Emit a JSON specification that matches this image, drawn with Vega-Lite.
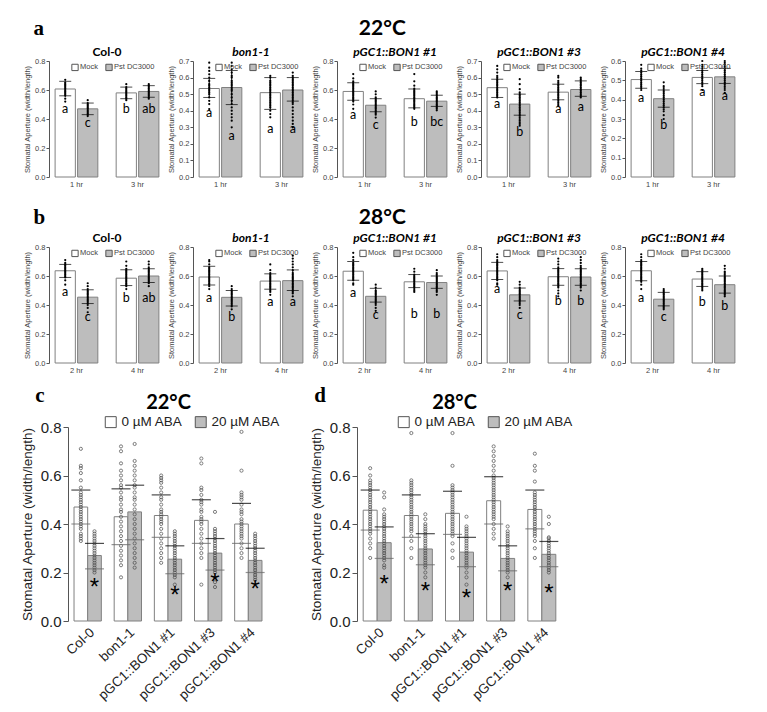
{
"$schema":"https://vega.github.io/schema/vega-lite/v6.json",
"padding":{"left":20,"top":18,"right":4,"bottom":4},
"background":"white",
"datasets":{
"ab":[
{"r":"a","p":"Col-0","t":"1 hr","g":"Mock","m":0.607,"lo":0.56,"hi":0.66,"l":"a","ly":0.47,"pts":[0.67,0.65,0.64,0.63,0.62,0.61,0.6,0.59,0.58,0.57,0.56,0.54,0.52]},
{"r":"a","p":"Col-0","t":"1 hr","g":"Pst DC3000","m":0.47,"lo":0.43,"hi":0.51,"l":"c","ly":0.375,"pts":[0.53,0.51,0.5,0.49,0.48,0.47,0.46,0.45,0.44,0.43,0.42]},
{"r":"a","p":"Col-0","t":"3 hr","g":"Mock","m":0.58,"lo":0.54,"hi":0.62,"l":"b","ly":0.47,"pts":[0.64,0.62,0.61,0.6,0.59,0.58,0.57,0.56,0.55,0.54,0.53]},
{"r":"a","p":"Col-0","t":"3 hr","g":"Pst DC3000","m":0.59,"lo":0.55,"hi":0.63,"l":"ab","ly":0.47,"pts":[0.64,0.63,0.62,0.61,0.6,0.59,0.58,0.57,0.56,0.55,0.54]},
{"r":"a","p":"bon1-1","t":"1 hr","g":"Mock","m":0.534,"lo":0.48,"hi":0.595,"l":"a","ly":0.385,"pts":[0.69,0.66,0.64,0.62,0.6,0.58,0.56,0.55,0.54,0.53,0.52,0.51,0.5,0.48,0.46,0.44,0.41]},
{"r":"a","p":"bon1-1","t":"1 hr","g":"Pst DC3000","m":0.54,"lo":0.437,"hi":0.643,"l":"a","ly":0.25,"pts":[0.69,0.67,0.65,0.63,0.61,0.6,0.58,0.57,0.56,0.55,0.54,0.53,0.52,0.5,0.48,0.46,0.44,0.42,0.4,0.38,0.36,0.34,0.3]},
{"r":"a","p":"bon1-1","t":"3 hr","g":"Mock","m":0.509,"lo":0.408,"hi":0.6,"l":"a","ly":0.29,"pts":[0.61,0.6,0.58,0.57,0.56,0.55,0.54,0.53,0.52,0.51,0.5,0.49,0.48,0.47,0.46,0.45,0.44,0.43,0.42,0.4,0.38,0.36]},
{"r":"a","p":"bon1-1","t":"3 hr","g":"Pst DC3000","m":0.525,"lo":0.458,"hi":0.6,"l":"a","ly":0.29,"pts":[0.63,0.61,0.6,0.59,0.58,0.57,0.56,0.55,0.54,0.53,0.52,0.51,0.5,0.49,0.48,0.47,0.46,0.45,0.44,0.42,0.4,0.38,0.36,0.34,0.32,0.3]},
{"r":"a","p":"pGC1::BON1 #1","t":"1 hr","g":"Mock","m":0.59,"lo":0.53,"hi":0.65,"l":"a","ly":0.43,"pts":[0.71,0.68,0.66,0.65,0.64,0.63,0.62,0.61,0.6,0.59,0.58,0.57,0.56,0.55,0.54,0.53,0.52,0.5,0.47]},
{"r":"a","p":"pGC1::BON1 #1","t":"1 hr","g":"Pst DC3000","m":0.495,"lo":0.45,"hi":0.54,"l":"c","ly":0.36,"pts":[0.59,0.57,0.55,0.54,0.53,0.52,0.51,0.5,0.49,0.48,0.47,0.46,0.45,0.44,0.43,0.41]},
{"r":"a","p":"pGC1::BON1 #1","t":"3 hr","g":"Mock","m":0.54,"lo":0.477,"hi":0.607,"l":"b","ly":0.38,"pts":[0.71,0.66,0.63,0.61,0.6,0.59,0.58,0.57,0.56,0.55,0.54,0.53,0.52,0.51,0.5,0.49,0.48,0.47]},
{"r":"a","p":"pGC1::BON1 #1","t":"3 hr","g":"Pst DC3000","m":0.523,"lo":0.487,"hi":0.564,"l":"bc","ly":0.38,"pts":[0.59,0.58,0.57,0.56,0.55,0.54,0.53,0.52,0.51,0.5,0.49,0.48,0.47,0.46]},
{"r":"a","p":"pGC1::BON1 #3","t":"1 hr","g":"Mock","m":0.539,"lo":0.48,"hi":0.59,"l":"a","ly":0.44,"pts":[0.67,0.65,0.63,0.61,0.6,0.59,0.58,0.57,0.56,0.55,0.54,0.53,0.52,0.51,0.5,0.49,0.48]},
{"r":"a","p":"pGC1::BON1 #3","t":"1 hr","g":"Pst DC3000","m":0.44,"lo":0.373,"hi":0.5,"l":"b","ly":0.27,"pts":[0.59,0.56,0.53,0.51,0.5,0.49,0.48,0.47,0.46,0.45,0.44,0.43,0.42,0.41,0.4,0.39,0.38,0.37,0.36,0.35,0.34,0.33,0.32,0.31]},
{"r":"a","p":"pGC1::BON1 #3","t":"3 hr","g":"Mock","m":0.512,"lo":0.466,"hi":0.56,"l":"a","ly":0.41,"pts":[0.61,0.6,0.58,0.57,0.56,0.55,0.54,0.53,0.52,0.51,0.5,0.49,0.48,0.47,0.46,0.45,0.44,0.43]},
{"r":"a","p":"pGC1::BON1 #3","t":"3 hr","g":"Pst DC3000","m":0.528,"lo":0.487,"hi":0.58,"l":"a","ly":0.425,"pts":[0.6,0.59,0.58,0.57,0.56,0.55,0.54,0.53,0.52,0.51,0.5,0.49,0.48]},
{"r":"a","p":"pGC1::BON1 #4","t":"1 hr","g":"Mock","m":0.504,"lo":0.459,"hi":0.546,"l":"a","ly":0.41,"pts":[0.58,0.56,0.55,0.54,0.53,0.52,0.51,0.5,0.49,0.48,0.47,0.46,0.45]},
{"r":"a","p":"pGC1::BON1 #4","t":"1 hr","g":"Pst DC3000","m":0.405,"lo":0.361,"hi":0.45,"l":"b","ly":0.27,"pts":[0.49,0.47,0.46,0.45,0.44,0.43,0.42,0.41,0.4,0.39,0.38,0.37,0.36,0.35,0.34,0.32,0.3]},
{"r":"a","p":"pGC1::BON1 #4","t":"3 hr","g":"Mock","m":0.515,"lo":0.483,"hi":0.551,"l":"a","ly":0.44,"pts":[0.6,0.58,0.57,0.56,0.55,0.54,0.53,0.52,0.51,0.5,0.49,0.48,0.47,0.45]},
{"r":"a","p":"pGC1::BON1 #4","t":"3 hr","g":"Pst DC3000","m":0.518,"lo":0.484,"hi":0.562,"l":"a","ly":0.42,"pts":[0.6,0.59,0.58,0.57,0.56,0.55,0.54,0.53,0.52,0.51,0.5,0.49,0.48,0.47,0.46,0.45,0.435]},
{"r":"b","p":"Col-0","t":"2 hr","g":"Mock","m":0.636,"lo":0.59,"hi":0.68,"l":"a","ly":0.49,"pts":[0.71,0.69,0.68,0.67,0.66,0.65,0.64,0.63,0.62,0.61,0.6,0.59,0.57,0.54]},
{"r":"b","p":"Col-0","t":"2 hr","g":"Pst DC3000","m":0.454,"lo":0.41,"hi":0.505,"l":"c","ly":0.32,"pts":[0.55,0.53,0.51,0.5,0.49,0.48,0.47,0.46,0.45,0.44,0.43,0.42,0.41,0.4,0.38,0.35]},
{"r":"b","p":"Col-0","t":"4 hr","g":"Mock","m":0.585,"lo":0.534,"hi":0.643,"l":"b","ly":0.45,"pts":[0.7,0.67,0.65,0.64,0.63,0.62,0.61,0.6,0.59,0.58,0.57,0.56,0.55,0.54,0.53,0.51]},
{"r":"b","p":"Col-0","t":"4 hr","g":"Pst DC3000","m":0.6,"lo":0.555,"hi":0.65,"l":"ab","ly":0.45,"pts":[0.7,0.68,0.66,0.65,0.64,0.63,0.62,0.61,0.6,0.59,0.58,0.57,0.56,0.55,0.53]},
{"r":"b","p":"bon1-1","t":"2 hr","g":"Mock","m":0.593,"lo":0.538,"hi":0.667,"l":"a","ly":0.45,"pts":[0.71,0.7,0.68,0.66,0.65,0.64,0.63,0.62,0.61,0.6,0.59,0.58,0.57,0.56,0.55,0.54,0.53,0.51]},
{"r":"b","p":"bon1-1","t":"2 hr","g":"Pst DC3000","m":0.453,"lo":0.393,"hi":0.5,"l":"b","ly":0.315,"pts":[0.53,0.51,0.5,0.49,0.48,0.47,0.46,0.45,0.44,0.43,0.42,0.41,0.4,0.39,0.37]},
{"r":"b","p":"bon1-1","t":"4 hr","g":"Mock","m":0.565,"lo":0.509,"hi":0.615,"l":"a","ly":0.42,"pts":[0.68,0.64,0.62,0.61,0.6,0.59,0.58,0.57,0.56,0.55,0.54,0.53,0.52,0.51,0.5,0.49,0.47]},
{"r":"b","p":"bon1-1","t":"4 hr","g":"Pst DC3000","m":0.568,"lo":0.5,"hi":0.642,"l":"a","ly":0.42,"pts":[0.74,0.72,0.7,0.68,0.66,0.64,0.62,0.61,0.6,0.59,0.58,0.57,0.56,0.55,0.54,0.53,0.52,0.51,0.5,0.49,0.48,0.46]},
{"r":"b","p":"pGC1::BON1 #1","t":"2 hr","g":"Mock","m":0.633,"lo":0.57,"hi":0.7,"l":"a","ly":0.48,"pts":[0.76,0.73,0.71,0.69,0.68,0.67,0.66,0.65,0.64,0.63,0.62,0.61,0.6,0.59,0.58,0.57,0.55,0.54]},
{"r":"b","p":"pGC1::BON1 #1","t":"2 hr","g":"Pst DC3000","m":0.46,"lo":0.42,"hi":0.515,"l":"c","ly":0.33,"pts":[0.54,0.52,0.5,0.49,0.48,0.47,0.46,0.45,0.44,0.43,0.42,0.41,0.4,0.38,0.36]},
{"r":"b","p":"pGC1::BON1 #1","t":"4 hr","g":"Mock","m":0.56,"lo":0.52,"hi":0.61,"l":"b","ly":0.34,"pts":[0.65,0.63,0.61,0.6,0.59,0.58,0.57,0.56,0.55,0.54,0.53,0.52,0.51,0.5,0.49]},
{"r":"b","p":"pGC1::BON1 #1","t":"4 hr","g":"Pst DC3000","m":0.555,"lo":0.515,"hi":0.6,"l":"b","ly":0.34,"pts":[0.64,0.62,0.61,0.6,0.59,0.58,0.57,0.56,0.55,0.54,0.53,0.52,0.51,0.5,0.49,0.47]},
{"r":"b","p":"pGC1::BON1 #3","t":"2 hr","g":"Mock","m":0.635,"lo":0.576,"hi":0.694,"l":"a","ly":0.51,"pts":[0.75,0.73,0.71,0.7,0.69,0.68,0.67,0.66,0.65,0.64,0.63,0.62,0.61,0.6,0.59,0.58,0.57,0.55,0.54]},
{"r":"b","p":"pGC1::BON1 #3","t":"2 hr","g":"Pst DC3000","m":0.47,"lo":0.428,"hi":0.517,"l":"c","ly":0.33,"pts":[0.56,0.54,0.52,0.51,0.5,0.49,0.48,0.47,0.46,0.45,0.44,0.43,0.42,0.41,0.4,0.38]},
{"r":"b","p":"pGC1::BON1 #3","t":"4 hr","g":"Mock","m":0.595,"lo":0.536,"hi":0.651,"l":"b","ly":0.43,"pts":[0.72,0.7,0.68,0.66,0.65,0.64,0.63,0.62,0.61,0.6,0.59,0.58,0.57,0.56,0.55,0.54,0.53,0.52,0.5,0.48,0.46]},
{"r":"b","p":"pGC1::BON1 #3","t":"4 hr","g":"Pst DC3000","m":0.593,"lo":0.536,"hi":0.65,"l":"b","ly":0.43,"pts":[0.73,0.71,0.69,0.67,0.66,0.65,0.64,0.63,0.62,0.61,0.6,0.59,0.58,0.57,0.56,0.55,0.54,0.53,0.52,0.5]},
{"r":"b","p":"pGC1::BON1 #4","t":"2 hr","g":"Mock","m":0.636,"lo":0.567,"hi":0.7,"l":"a","ly":0.445,"pts":[0.75,0.73,0.71,0.7,0.69,0.68,0.67,0.66,0.65,0.64,0.63,0.62,0.61,0.6,0.59,0.58,0.57,0.56,0.54,0.51]},
{"r":"b","p":"pGC1::BON1 #4","t":"2 hr","g":"Pst DC3000","m":0.44,"lo":0.394,"hi":0.487,"l":"c","ly":0.32,"pts":[0.51,0.5,0.49,0.48,0.47,0.46,0.45,0.44,0.43,0.42,0.41,0.4,0.39,0.38,0.37]},
{"r":"b","p":"pGC1::BON1 #4","t":"4 hr","g":"Mock","m":0.579,"lo":0.528,"hi":0.63,"l":"b","ly":0.42,"pts":[0.65,0.64,0.63,0.62,0.61,0.6,0.59,0.58,0.57,0.56,0.55,0.54,0.53,0.52,0.51,0.5]},
{"r":"b","p":"pGC1::BON1 #4","t":"4 hr","g":"Pst DC3000","m":0.54,"lo":0.482,"hi":0.6,"l":"b","ly":0.39,"pts":[0.67,0.65,0.63,0.62,0.61,0.6,0.59,0.58,0.57,0.56,0.55,0.54,0.53,0.52,0.51,0.5,0.49,0.48,0.47,0.46]}
],
"cd":[
{"r":"c","gen":"Col-0","g":"0 µM ABA","m":0.47,"lo":0.4,"hi":0.54,"pts":[0.71,0.64,0.63,0.61,0.58,0.55,0.53,0.52,0.51,0.5,0.49,0.48,0.47,0.46,0.45,0.44,0.43,0.42,0.41,0.4,0.39,0.38,0.36,0.35,0.34,0.33]},
{"r":"c","gen":"Col-0","g":"20 µM ABA","m":0.27,"lo":0.215,"hi":0.32,"s":0.157,"pts":[0.37,0.36,0.35,0.34,0.33,0.32,0.31,0.3,0.29,0.28,0.27,0.26,0.25,0.24,0.23,0.22,0.21,0.2]},
{"r":"c","gen":"bon1-1","g":"0 µM ABA","m":0.43,"lo":0.315,"hi":0.545,"pts":[0.72,0.7,0.65,0.62,0.6,0.58,0.56,0.55,0.53,0.51,0.5,0.48,0.46,0.45,0.43,0.41,0.39,0.37,0.35,0.33,0.31,0.29,0.27,0.25,0.23,0.18]},
{"r":"c","gen":"bon1-1","g":"20 µM ABA","m":0.45,"lo":0.335,"hi":0.56,"pts":[0.73,0.66,0.64,0.62,0.6,0.58,0.56,0.55,0.53,0.51,0.5,0.48,0.46,0.44,0.42,0.4,0.38,0.36,0.34,0.32,0.3,0.28,0.26,0.24,0.22]},
{"r":"c","gen":"pGC1::BON1 #1","g":"0 µM ABA","m":0.435,"lo":0.345,"hi":0.52,"pts":[0.6,0.59,0.58,0.57,0.55,0.53,0.51,0.5,0.48,0.46,0.45,0.44,0.43,0.42,0.41,0.4,0.38,0.36,0.34,0.32,0.3,0.28,0.26,0.24]},
{"r":"c","gen":"pGC1::BON1 #1","g":"20 µM ABA","m":0.255,"lo":0.195,"hi":0.31,"s":0.124,"pts":[0.37,0.36,0.35,0.34,0.33,0.32,0.31,0.3,0.29,0.28,0.27,0.26,0.25,0.24,0.23,0.22,0.21,0.2,0.19,0.18,0.15]},
{"r":"c","gen":"pGC1::BON1 #3","g":"0 µM ABA","m":0.415,"lo":0.32,"hi":0.5,"pts":[0.67,0.65,0.55,0.54,0.52,0.5,0.49,0.48,0.46,0.45,0.43,0.42,0.41,0.4,0.38,0.36,0.34,0.32,0.3,0.28,0.26,0.15]},
{"r":"c","gen":"pGC1::BON1 #3","g":"20 µM ABA","m":0.28,"lo":0.21,"hi":0.34,"s":0.177,"pts":[0.45,0.38,0.37,0.36,0.35,0.34,0.33,0.32,0.31,0.3,0.29,0.28,0.27,0.26,0.25,0.24,0.23,0.22,0.21,0.2,0.18,0.16,0.14]},
{"r":"c","gen":"pGC1::BON1 #4","g":"0 µM ABA","m":0.4,"lo":0.32,"hi":0.485,"pts":[0.78,0.62,0.53,0.52,0.51,0.5,0.48,0.46,0.45,0.44,0.42,0.41,0.4,0.39,0.38,0.37,0.36,0.35,0.34,0.32,0.3,0.28,0.26]},
{"r":"c","gen":"pGC1::BON1 #4","g":"20 µM ABA","m":0.25,"lo":0.2,"hi":0.3,"s":0.15,"pts":[0.36,0.35,0.34,0.33,0.32,0.31,0.3,0.29,0.28,0.27,0.26,0.25,0.24,0.23,0.22,0.21,0.2,0.19,0.18,0.17]},
{"r":"d","gen":"Col-0","g":"0 µM ABA","m":0.457,"lo":0.375,"hi":0.54,"pts":[0.63,0.6,0.58,0.57,0.56,0.55,0.54,0.53,0.52,0.51,0.5,0.49,0.48,0.47,0.46,0.45,0.44,0.43,0.42,0.41,0.4,0.39,0.38,0.37,0.36,0.34,0.32,0.3,0.26]},
{"r":"d","gen":"Col-0","g":"20 µM ABA","m":0.323,"lo":0.258,"hi":0.388,"s":0.17,"pts":[0.53,0.51,0.46,0.44,0.43,0.42,0.41,0.4,0.39,0.38,0.37,0.36,0.35,0.34,0.33,0.32,0.31,0.3,0.29,0.28,0.27,0.26,0.25,0.23,0.22]},
{"r":"d","gen":"bon1-1","g":"0 µM ABA","m":0.435,"lo":0.345,"hi":0.52,"pts":[0.775,0.58,0.57,0.56,0.55,0.54,0.53,0.52,0.51,0.5,0.49,0.48,0.47,0.46,0.45,0.44,0.43,0.42,0.41,0.4,0.39,0.38,0.37,0.35,0.33,0.3,0.26]},
{"r":"d","gen":"bon1-1","g":"20 µM ABA","m":0.297,"lo":0.232,"hi":0.36,"s":0.14,"pts":[0.44,0.42,0.4,0.39,0.38,0.37,0.36,0.35,0.34,0.33,0.32,0.31,0.3,0.29,0.28,0.27,0.26,0.25,0.24,0.23,0.22,0.2,0.18]},
{"r":"d","gen":"pGC1::BON1 #1","g":"0 µM ABA","m":0.444,"lo":0.357,"hi":0.535,"pts":[0.775,0.64,0.56,0.55,0.54,0.53,0.52,0.51,0.5,0.49,0.48,0.47,0.46,0.45,0.44,0.43,0.42,0.41,0.4,0.39,0.38,0.37,0.36,0.35,0.32,0.29,0.26]},
{"r":"d","gen":"pGC1::BON1 #1","g":"20 µM ABA","m":0.284,"lo":0.224,"hi":0.345,"s":0.11,"pts":[0.43,0.39,0.38,0.37,0.36,0.35,0.34,0.33,0.32,0.31,0.3,0.29,0.28,0.27,0.26,0.25,0.24,0.23,0.22,0.2,0.18,0.15]},
{"r":"d","gen":"pGC1::BON1 #3","g":"0 µM ABA","m":0.496,"lo":0.4,"hi":0.595,"pts":[0.72,0.7,0.68,0.66,0.64,0.62,0.6,0.59,0.58,0.57,0.56,0.55,0.54,0.53,0.52,0.51,0.5,0.49,0.48,0.47,0.46,0.45,0.44,0.43,0.42,0.4,0.38,0.36,0.34]},
{"r":"d","gen":"pGC1::BON1 #3","g":"20 µM ABA","m":0.258,"lo":0.207,"hi":0.31,"s":0.14,"pts":[0.39,0.37,0.36,0.35,0.34,0.33,0.32,0.31,0.3,0.29,0.28,0.27,0.26,0.25,0.24,0.23,0.22,0.21,0.2,0.18]},
{"r":"d","gen":"pGC1::BON1 #4","g":"0 µM ABA","m":0.46,"lo":0.38,"hi":0.54,"pts":[0.69,0.64,0.62,0.575,0.53,0.52,0.51,0.5,0.49,0.48,0.47,0.46,0.45,0.44,0.43,0.42,0.41,0.4,0.39,0.38,0.37,0.36,0.35,0.33,0.3,0.26]},
{"r":"d","gen":"pGC1::BON1 #4","g":"20 µM ABA","m":0.275,"lo":0.224,"hi":0.328,"s":0.13,"pts":[0.43,0.4,0.345,0.34,0.33,0.32,0.31,0.3,0.29,0.28,0.27,0.26,0.25,0.24,0.23,0.22,0.21,0.2]}
]
},
"config":{
"view":{"stroke":null},
"axis":{"labelFont":"Liberation Sans","titleFont":"Liberation Sans","labelFontSize":7.5,"titleFontSize":7.5,"titleFontWeight":"normal","labelColor":"#444","titleColor":"#444","domainColor":"#555","tickColor":"#555","tickSize":3,"grid":false,"titlePadding":3,"labelPadding":1,"labelOverlap":false,"labelSeparation":-20},
"axisY":{"labelOverlap":false},
"title":{"font":"Lato","fontSize":12,"fontWeight":"bold","color":"black","offset":-2,"frame":"group","anchor":"middle"},
"legend":{"labelFont":"Liberation Sans","labelColor":"#333"},
"bar":{"stroke":"#808080","strokeWidth":1}
},
"resolve":{"scale":{"x":"independent","y":"independent","xOffset":"independent","fill":"independent"},"axis":{"x":"independent","y":"independent"},"legend":{"fill":"independent"}},
"columns":1,
"align":"none",
"spacing":11,
"concat":[
{"spacing":19,
 "data":{"name":"ab"},
 "resolve":{"scale":{"x":"independent","y":"independent","xOffset":"independent","fill":"independent"},"axis":{"x":"independent","y":"independent"},"legend":{"fill":"independent"}},
 "vconcat":[
{"title":{"text":"a","font":"Liberation Serif","fontSize":21,"fontWeight":"bold","anchor":"start","frame":"bounds","offset":-21,"dx":10},
 "resolve":{"scale":{"x":"independent","y":"independent","xOffset":"independent","fill":"independent"},"axis":{"x":"independent","y":"independent"},"legend":{"fill":"independent"}},
 "vconcat":[{
 "title":{"text":"22°C","font":"Lato","fontSize":21,"fontWeight":"bold","offset":7,"anchor":"middle","frame":"bounds"},
 "spacing":2,
 "resolve":{"scale":{"x":"independent","y":"independent","xOffset":"independent","fill":"independent"},"axis":{"x":"independent","y":"independent"},"legend":{"fill":"independent"}},
 "hconcat":[
 {"width":116,"height":116,"title":{"text":"Col-0"},
  "transform":[{"filter":"datum.r=='a'&&datum.p=='Col-0'"}],
  "encoding":{"x":{"field":"t","type":"nominal","scale":{"paddingInner":0.3,"paddingOuter":0.1},"axis":{"title":null,"labelAngle":0,"domain":false,"ticks":false,"labelPadding":3}},"xOffset":{"field":"g","type":"nominal","scale":{"paddingInner":0.1}}},
  "layer":[
   {"mark":"bar","encoding":{"y":{"field":"m","type":"quantitative","scale":{"domain":[0,0.8]},"axis":{"tickCount":4,"format":".1f","labelOverlap":false},"title":"Stomatal Aperture (width/length)"},"fill":{"field":"g","type":"nominal","scale":{"domain":["Mock","Pst DC3000"],"range":["white","#bdbdbd"]},"legend":{"title":null,"orient":"none","legendX":22,"legendY":2,"direction":"horizontal","labelFontSize":7.5,"symbolType":"square","symbolSize":40,"symbolStrokeColor":"#555","symbolStrokeWidth":0.8,"columnPadding":5,"labelOffset":1,"padding":0,"labelColor":"#444"}}}},
   {"transform":[{"flatten":["pts"]}],"mark":{"type":"circle","size":5,"color":"black","opacity":1},"encoding":{"y":{"field":"pts","type":"quantitative"}}},
   {"mark":{"type":"rule","color":"black","strokeWidth":1},"encoding":{"y":{"field":"lo","type":"quantitative"},"y2":{"field":"hi"}}},
   {"mark":{"type":"tick","orient":"horizontal","color":"black","size":12,"thickness":1},"encoding":{"y":{"field":"lo","type":"quantitative"}}},
   {"mark":{"type":"tick","orient":"horizontal","color":"black","size":12,"thickness":1},"encoding":{"y":{"field":"hi","type":"quantitative"}}},
   {"mark":{"type":"text","font":"Lato","fontSize":12.5,"color":"black"},"encoding":{"y":{"field":"ly","type":"quantitative"},"text":{"field":"l"}}}
  ]},
 {"width":116,"height":116,"title":{"text":"bon1-1","fontStyle":"italic"},
  "transform":[{"filter":"datum.r=='a'&&datum.p=='bon1-1'"}],
  "encoding":{"x":{"field":"t","type":"nominal","scale":{"paddingInner":0.3,"paddingOuter":0.1},"axis":{"title":null,"labelAngle":0,"domain":false,"ticks":false,"labelPadding":3}},"xOffset":{"field":"g","type":"nominal","scale":{"paddingInner":0.1}}},
  "layer":[
   {"mark":"bar","encoding":{"y":{"field":"m","type":"quantitative","scale":{"domain":[0,0.7]},"axis":{"tickCount":7,"format":".1f","labelOverlap":false},"title":"Stomatal Aperture (width/length)"},"fill":{"field":"g","type":"nominal","scale":{"domain":["Mock","Pst DC3000"],"range":["white","#bdbdbd"]},"legend":{"title":null,"orient":"none","legendX":22,"legendY":2,"direction":"horizontal","labelFontSize":7.5,"symbolType":"square","symbolSize":40,"symbolStrokeColor":"#555","symbolStrokeWidth":0.8,"columnPadding":5,"labelOffset":1,"padding":0,"labelColor":"#444"}}}},
   {"transform":[{"flatten":["pts"]}],"mark":{"type":"circle","size":5,"color":"black","opacity":1},"encoding":{"y":{"field":"pts","type":"quantitative"}}},
   {"mark":{"type":"rule","color":"black","strokeWidth":1},"encoding":{"y":{"field":"lo","type":"quantitative"},"y2":{"field":"hi"}}},
   {"mark":{"type":"tick","orient":"horizontal","color":"black","size":12,"thickness":1},"encoding":{"y":{"field":"lo","type":"quantitative"}}},
   {"mark":{"type":"tick","orient":"horizontal","color":"black","size":12,"thickness":1},"encoding":{"y":{"field":"hi","type":"quantitative"}}},
   {"mark":{"type":"text","font":"Lato","fontSize":12.5,"color":"black"},"encoding":{"y":{"field":"ly","type":"quantitative"},"text":{"field":"l"}}}
  ]},
 {"width":116,"height":116,"title":{"text":"pGC1::BON1 #1","fontStyle":"italic"},
  "transform":[{"filter":"datum.r=='a'&&datum.p=='pGC1::BON1 #1'"}],
  "encoding":{"x":{"field":"t","type":"nominal","scale":{"paddingInner":0.3,"paddingOuter":0.1},"axis":{"title":null,"labelAngle":0,"domain":false,"ticks":false,"labelPadding":3}},"xOffset":{"field":"g","type":"nominal","scale":{"paddingInner":0.1}}},
  "layer":[
   {"mark":"bar","encoding":{"y":{"field":"m","type":"quantitative","scale":{"domain":[0,0.8]},"axis":{"tickCount":4,"format":".1f","labelOverlap":false},"title":"Stomatal Aperture (width/length)"},"fill":{"field":"g","type":"nominal","scale":{"domain":["Mock","Pst DC3000"],"range":["white","#bdbdbd"]},"legend":{"title":null,"orient":"none","legendX":22,"legendY":2,"direction":"horizontal","labelFontSize":7.5,"symbolType":"square","symbolSize":40,"symbolStrokeColor":"#555","symbolStrokeWidth":0.8,"columnPadding":5,"labelOffset":1,"padding":0,"labelColor":"#444"}}}},
   {"transform":[{"flatten":["pts"]}],"mark":{"type":"circle","size":5,"color":"black","opacity":1},"encoding":{"y":{"field":"pts","type":"quantitative"}}},
   {"mark":{"type":"rule","color":"black","strokeWidth":1},"encoding":{"y":{"field":"lo","type":"quantitative"},"y2":{"field":"hi"}}},
   {"mark":{"type":"tick","orient":"horizontal","color":"black","size":12,"thickness":1},"encoding":{"y":{"field":"lo","type":"quantitative"}}},
   {"mark":{"type":"tick","orient":"horizontal","color":"black","size":12,"thickness":1},"encoding":{"y":{"field":"hi","type":"quantitative"}}},
   {"mark":{"type":"text","font":"Lato","fontSize":12.5,"color":"black"},"encoding":{"y":{"field":"ly","type":"quantitative"},"text":{"field":"l"}}}
  ]},
 {"width":116,"height":116,"title":{"text":"pGC1::BON1 #3","fontStyle":"italic"},
  "transform":[{"filter":"datum.r=='a'&&datum.p=='pGC1::BON1 #3'"}],
  "encoding":{"x":{"field":"t","type":"nominal","scale":{"paddingInner":0.3,"paddingOuter":0.1},"axis":{"title":null,"labelAngle":0,"domain":false,"ticks":false,"labelPadding":3}},"xOffset":{"field":"g","type":"nominal","scale":{"paddingInner":0.1}}},
  "layer":[
   {"mark":"bar","encoding":{"y":{"field":"m","type":"quantitative","scale":{"domain":[0,0.7]},"axis":{"tickCount":7,"format":".1f","labelOverlap":false},"title":"Stomatal Aperture (width/length)"},"fill":{"field":"g","type":"nominal","scale":{"domain":["Mock","Pst DC3000"],"range":["white","#bdbdbd"]},"legend":{"title":null,"orient":"none","legendX":22,"legendY":2,"direction":"horizontal","labelFontSize":7.5,"symbolType":"square","symbolSize":40,"symbolStrokeColor":"#555","symbolStrokeWidth":0.8,"columnPadding":5,"labelOffset":1,"padding":0,"labelColor":"#444"}}}},
   {"transform":[{"flatten":["pts"]}],"mark":{"type":"circle","size":5,"color":"black","opacity":1},"encoding":{"y":{"field":"pts","type":"quantitative"}}},
   {"mark":{"type":"rule","color":"black","strokeWidth":1},"encoding":{"y":{"field":"lo","type":"quantitative"},"y2":{"field":"hi"}}},
   {"mark":{"type":"tick","orient":"horizontal","color":"black","size":12,"thickness":1},"encoding":{"y":{"field":"lo","type":"quantitative"}}},
   {"mark":{"type":"tick","orient":"horizontal","color":"black","size":12,"thickness":1},"encoding":{"y":{"field":"hi","type":"quantitative"}}},
   {"mark":{"type":"text","font":"Lato","fontSize":12.5,"color":"black"},"encoding":{"y":{"field":"ly","type":"quantitative"},"text":{"field":"l"}}}
  ]},
 {"width":116,"height":116,"title":{"text":"pGC1::BON1 #4","fontStyle":"italic"},
  "transform":[{"filter":"datum.r=='a'&&datum.p=='pGC1::BON1 #4'"}],
  "encoding":{"x":{"field":"t","type":"nominal","scale":{"paddingInner":0.3,"paddingOuter":0.1},"axis":{"title":null,"labelAngle":0,"domain":false,"ticks":false,"labelPadding":3}},"xOffset":{"field":"g","type":"nominal","scale":{"paddingInner":0.1}}},
  "layer":[
   {"mark":"bar","encoding":{"y":{"field":"m","type":"quantitative","scale":{"domain":[0,0.6]},"axis":{"tickCount":6,"format":".1f","labelOverlap":false},"title":"Stomatal Aperture (width/length)"},"fill":{"field":"g","type":"nominal","scale":{"domain":["Mock","Pst DC3000"],"range":["white","#bdbdbd"]},"legend":{"title":null,"orient":"none","legendX":22,"legendY":2,"direction":"horizontal","labelFontSize":7.5,"symbolType":"square","symbolSize":40,"symbolStrokeColor":"#555","symbolStrokeWidth":0.8,"columnPadding":5,"labelOffset":1,"padding":0,"labelColor":"#444"}}}},
   {"transform":[{"flatten":["pts"]}],"mark":{"type":"circle","size":5,"color":"black","opacity":1},"encoding":{"y":{"field":"pts","type":"quantitative"}}},
   {"mark":{"type":"rule","color":"black","strokeWidth":1},"encoding":{"y":{"field":"lo","type":"quantitative"},"y2":{"field":"hi"}}},
   {"mark":{"type":"tick","orient":"horizontal","color":"black","size":12,"thickness":1},"encoding":{"y":{"field":"lo","type":"quantitative"}}},
   {"mark":{"type":"tick","orient":"horizontal","color":"black","size":12,"thickness":1},"encoding":{"y":{"field":"hi","type":"quantitative"}}},
   {"mark":{"type":"text","font":"Lato","fontSize":12.5,"color":"black"},"encoding":{"y":{"field":"ly","type":"quantitative"},"text":{"field":"l"}}}
  ]}
 ]}]},
{"title":{"text":"b","font":"Liberation Serif","fontSize":21,"fontWeight":"bold","anchor":"start","frame":"bounds","offset":-21,"dx":10},
 "resolve":{"scale":{"x":"independent","y":"independent","xOffset":"independent","fill":"independent"},"axis":{"x":"independent","y":"independent"},"legend":{"fill":"independent"}},
 "vconcat":[{
 "title":{"text":"28°C","font":"Lato","fontSize":21,"fontWeight":"bold","offset":4,"anchor":"middle","frame":"bounds"},
 "spacing":2,
 "resolve":{"scale":{"x":"independent","y":"independent","xOffset":"independent","fill":"independent"},"axis":{"x":"independent","y":"independent"},"legend":{"fill":"independent"}},
 "hconcat":[
 {"width":116,"height":116,"title":{"text":"Col-0"},
  "transform":[{"filter":"datum.r=='b'&&datum.p=='Col-0'"}],
  "encoding":{"x":{"field":"t","type":"nominal","scale":{"paddingInner":0.3,"paddingOuter":0.1},"axis":{"title":null,"labelAngle":0,"domain":false,"ticks":false,"labelPadding":3}},"xOffset":{"field":"g","type":"nominal","scale":{"paddingInner":0.1}}},
  "layer":[
   {"mark":"bar","encoding":{"y":{"field":"m","type":"quantitative","scale":{"domain":[0,0.8]},"axis":{"tickCount":4,"format":".1f","labelOverlap":false},"title":"Stomatal Aperture (width/length)"},"fill":{"field":"g","type":"nominal","scale":{"domain":["Mock","Pst DC3000"],"range":["white","#bdbdbd"]},"legend":{"title":null,"orient":"none","legendX":22,"legendY":2,"direction":"horizontal","labelFontSize":7.5,"symbolType":"square","symbolSize":40,"symbolStrokeColor":"#555","symbolStrokeWidth":0.8,"columnPadding":5,"labelOffset":1,"padding":0,"labelColor":"#444"}}}},
   {"transform":[{"flatten":["pts"]}],"mark":{"type":"circle","size":5,"color":"black","opacity":1},"encoding":{"y":{"field":"pts","type":"quantitative"}}},
   {"mark":{"type":"rule","color":"black","strokeWidth":1},"encoding":{"y":{"field":"lo","type":"quantitative"},"y2":{"field":"hi"}}},
   {"mark":{"type":"tick","orient":"horizontal","color":"black","size":12,"thickness":1},"encoding":{"y":{"field":"lo","type":"quantitative"}}},
   {"mark":{"type":"tick","orient":"horizontal","color":"black","size":12,"thickness":1},"encoding":{"y":{"field":"hi","type":"quantitative"}}},
   {"mark":{"type":"text","font":"Lato","fontSize":12.5,"color":"black"},"encoding":{"y":{"field":"ly","type":"quantitative"},"text":{"field":"l"}}}
  ]},
 {"width":116,"height":116,"title":{"text":"bon1-1","fontStyle":"italic"},
  "transform":[{"filter":"datum.r=='b'&&datum.p=='bon1-1'"}],
  "encoding":{"x":{"field":"t","type":"nominal","scale":{"paddingInner":0.3,"paddingOuter":0.1},"axis":{"title":null,"labelAngle":0,"domain":false,"ticks":false,"labelPadding":3}},"xOffset":{"field":"g","type":"nominal","scale":{"paddingInner":0.1}}},
  "layer":[
   {"mark":"bar","encoding":{"y":{"field":"m","type":"quantitative","scale":{"domain":[0,0.8]},"axis":{"tickCount":4,"format":".1f","labelOverlap":false},"title":"Stomatal Aperture (width/length)"},"fill":{"field":"g","type":"nominal","scale":{"domain":["Mock","Pst DC3000"],"range":["white","#bdbdbd"]},"legend":{"title":null,"orient":"none","legendX":22,"legendY":2,"direction":"horizontal","labelFontSize":7.5,"symbolType":"square","symbolSize":40,"symbolStrokeColor":"#555","symbolStrokeWidth":0.8,"columnPadding":5,"labelOffset":1,"padding":0,"labelColor":"#444"}}}},
   {"transform":[{"flatten":["pts"]}],"mark":{"type":"circle","size":5,"color":"black","opacity":1},"encoding":{"y":{"field":"pts","type":"quantitative"}}},
   {"mark":{"type":"rule","color":"black","strokeWidth":1},"encoding":{"y":{"field":"lo","type":"quantitative"},"y2":{"field":"hi"}}},
   {"mark":{"type":"tick","orient":"horizontal","color":"black","size":12,"thickness":1},"encoding":{"y":{"field":"lo","type":"quantitative"}}},
   {"mark":{"type":"tick","orient":"horizontal","color":"black","size":12,"thickness":1},"encoding":{"y":{"field":"hi","type":"quantitative"}}},
   {"mark":{"type":"text","font":"Lato","fontSize":12.5,"color":"black"},"encoding":{"y":{"field":"ly","type":"quantitative"},"text":{"field":"l"}}}
  ]},
 {"width":116,"height":116,"title":{"text":"pGC1::BON1 #1","fontStyle":"italic"},
  "transform":[{"filter":"datum.r=='b'&&datum.p=='pGC1::BON1 #1'"}],
  "encoding":{"x":{"field":"t","type":"nominal","scale":{"paddingInner":0.3,"paddingOuter":0.1},"axis":{"title":null,"labelAngle":0,"domain":false,"ticks":false,"labelPadding":3}},"xOffset":{"field":"g","type":"nominal","scale":{"paddingInner":0.1}}},
  "layer":[
   {"mark":"bar","encoding":{"y":{"field":"m","type":"quantitative","scale":{"domain":[0,0.8]},"axis":{"tickCount":4,"format":".1f","labelOverlap":false},"title":"Stomatal Aperture (width/length)"},"fill":{"field":"g","type":"nominal","scale":{"domain":["Mock","Pst DC3000"],"range":["white","#bdbdbd"]},"legend":{"title":null,"orient":"none","legendX":22,"legendY":2,"direction":"horizontal","labelFontSize":7.5,"symbolType":"square","symbolSize":40,"symbolStrokeColor":"#555","symbolStrokeWidth":0.8,"columnPadding":5,"labelOffset":1,"padding":0,"labelColor":"#444"}}}},
   {"transform":[{"flatten":["pts"]}],"mark":{"type":"circle","size":5,"color":"black","opacity":1},"encoding":{"y":{"field":"pts","type":"quantitative"}}},
   {"mark":{"type":"rule","color":"black","strokeWidth":1},"encoding":{"y":{"field":"lo","type":"quantitative"},"y2":{"field":"hi"}}},
   {"mark":{"type":"tick","orient":"horizontal","color":"black","size":12,"thickness":1},"encoding":{"y":{"field":"lo","type":"quantitative"}}},
   {"mark":{"type":"tick","orient":"horizontal","color":"black","size":12,"thickness":1},"encoding":{"y":{"field":"hi","type":"quantitative"}}},
   {"mark":{"type":"text","font":"Lato","fontSize":12.5,"color":"black"},"encoding":{"y":{"field":"ly","type":"quantitative"},"text":{"field":"l"}}}
  ]},
 {"width":116,"height":116,"title":{"text":"pGC1::BON1 #3","fontStyle":"italic"},
  "transform":[{"filter":"datum.r=='b'&&datum.p=='pGC1::BON1 #3'"}],
  "encoding":{"x":{"field":"t","type":"nominal","scale":{"paddingInner":0.3,"paddingOuter":0.1},"axis":{"title":null,"labelAngle":0,"domain":false,"ticks":false,"labelPadding":3}},"xOffset":{"field":"g","type":"nominal","scale":{"paddingInner":0.1}}},
  "layer":[
   {"mark":"bar","encoding":{"y":{"field":"m","type":"quantitative","scale":{"domain":[0,0.8]},"axis":{"tickCount":4,"format":".1f","labelOverlap":false},"title":"Stomatal Aperture (width/length)"},"fill":{"field":"g","type":"nominal","scale":{"domain":["Mock","Pst DC3000"],"range":["white","#bdbdbd"]},"legend":{"title":null,"orient":"none","legendX":22,"legendY":2,"direction":"horizontal","labelFontSize":7.5,"symbolType":"square","symbolSize":40,"symbolStrokeColor":"#555","symbolStrokeWidth":0.8,"columnPadding":5,"labelOffset":1,"padding":0,"labelColor":"#444"}}}},
   {"transform":[{"flatten":["pts"]}],"mark":{"type":"circle","size":5,"color":"black","opacity":1},"encoding":{"y":{"field":"pts","type":"quantitative"}}},
   {"mark":{"type":"rule","color":"black","strokeWidth":1},"encoding":{"y":{"field":"lo","type":"quantitative"},"y2":{"field":"hi"}}},
   {"mark":{"type":"tick","orient":"horizontal","color":"black","size":12,"thickness":1},"encoding":{"y":{"field":"lo","type":"quantitative"}}},
   {"mark":{"type":"tick","orient":"horizontal","color":"black","size":12,"thickness":1},"encoding":{"y":{"field":"hi","type":"quantitative"}}},
   {"mark":{"type":"text","font":"Lato","fontSize":12.5,"color":"black"},"encoding":{"y":{"field":"ly","type":"quantitative"},"text":{"field":"l"}}}
  ]},
 {"width":116,"height":116,"title":{"text":"pGC1::BON1 #4","fontStyle":"italic"},
  "transform":[{"filter":"datum.r=='b'&&datum.p=='pGC1::BON1 #4'"}],
  "encoding":{"x":{"field":"t","type":"nominal","scale":{"paddingInner":0.3,"paddingOuter":0.1},"axis":{"title":null,"labelAngle":0,"domain":false,"ticks":false,"labelPadding":3}},"xOffset":{"field":"g","type":"nominal","scale":{"paddingInner":0.1}}},
  "layer":[
   {"mark":"bar","encoding":{"y":{"field":"m","type":"quantitative","scale":{"domain":[0,0.8]},"axis":{"tickCount":4,"format":".1f","labelOverlap":false},"title":"Stomatal Aperture (width/length)"},"fill":{"field":"g","type":"nominal","scale":{"domain":["Mock","Pst DC3000"],"range":["white","#bdbdbd"]},"legend":{"title":null,"orient":"none","legendX":22,"legendY":2,"direction":"horizontal","labelFontSize":7.5,"symbolType":"square","symbolSize":40,"symbolStrokeColor":"#555","symbolStrokeWidth":0.8,"columnPadding":5,"labelOffset":1,"padding":0,"labelColor":"#444"}}}},
   {"transform":[{"flatten":["pts"]}],"mark":{"type":"circle","size":5,"color":"black","opacity":1},"encoding":{"y":{"field":"pts","type":"quantitative"}}},
   {"mark":{"type":"rule","color":"black","strokeWidth":1},"encoding":{"y":{"field":"lo","type":"quantitative"},"y2":{"field":"hi"}}},
   {"mark":{"type":"tick","orient":"horizontal","color":"black","size":12,"thickness":1},"encoding":{"y":{"field":"lo","type":"quantitative"}}},
   {"mark":{"type":"tick","orient":"horizontal","color":"black","size":12,"thickness":1},"encoding":{"y":{"field":"hi","type":"quantitative"}}},
   {"mark":{"type":"text","font":"Lato","fontSize":12.5,"color":"black"},"encoding":{"y":{"field":"ly","type":"quantitative"},"text":{"field":"l"}}}
  ]}
 ]}]}
 ]},
{"data":{"name":"cd"},
 "spacing":28,
 "resolve":{"scale":{"x":"independent","y":"independent","xOffset":"independent","fill":"independent"},"axis":{"x":"independent","y":"independent"},"legend":{"fill":"independent"}},
 "hconcat":[
 {"title":{"text":"c","font":"Liberation Serif","fontSize":21,"fontWeight":"bold","anchor":"start","frame":"bounds","offset":-13,"dx":15},
  "resolve":{"scale":{"x":"independent","y":"independent","xOffset":"independent","fill":"independent"},"axis":{"x":"independent","y":"independent"},"legend":{"fill":"independent"}},
  "vconcat":[
  {"width":219,"height":194,"title":{"text":"22°C","font":"Lato","fontSize":20,"offset":2,"dx":10},
   "transform":[{"filter":"datum.r=='c'"}],
   "encoding":{"x":{"field":"gen","type":"nominal","sort":["Col-0","bon1-1","pGC1::BON1 #1","pGC1::BON1 #3","pGC1::BON1 #4"],"scale":{"range":[19,219],"paddingInner":0.32,"paddingOuter":0.15},"axis":{"title":null,"labelAngle":-43,"labelFontSize":13.5,"labelColor":"#222","domain":false,"ticks":false,"labelPadding":4}},"xOffset":{"field":"g","type":"nominal","scale":{"paddingInner":0}}},
   "layer":[
    {"mark":"bar","encoding":{"y":{"field":"m","type":"quantitative","scale":{"domain":[0,0.8]},"title":"Stomatal Aperture (width/length)","axis":{"values":[0,0.2,0.4,0.6,0.8],"format":".1f","offset":-19,"labelFontSize":15,"titleFontSize":13.5,"labelColor":"#222","titleColor":"#222","tickSize":5,"titlePadding":6,"labelPadding":2}},"fill":{"field":"g","type":"nominal","scale":{"domain":["0 µM ABA","20 µM ABA"],"range":["white","#bdbdbd"]},"legend":{"title":null,"orient":"none","legendX":55,"legendY":-12,"direction":"horizontal","labelFontSize":13.5,"symbolType":"square","symbolSize":120,"symbolStrokeColor":"#555","symbolStrokeWidth":1,"columnPadding":10,"labelOffset":4,"labelColor":"#222","padding":0}}}},
    {"transform":[{"flatten":["pts"]}],"mark":{"type":"point","shape":"circle","filled":false,"size":10,"color":"#444","strokeWidth":1},"encoding":{"y":{"field":"pts","type":"quantitative"}}},
    {"mark":{"type":"tick","orient":"horizontal","color":"black","size":19,"thickness":1.2},"encoding":{"y":{"field":"hi","type":"quantitative"}}},
    {"mark":{"type":"tick","orient":"horizontal","color":"#666","size":19,"thickness":1.2},"encoding":{"y":{"field":"lo","type":"quantitative"}}},
    {"transform":[{"filter":"isValid(datum.s)"}],"mark":{"type":"text","text":"*","font":"Liberation Sans","fontSize":24,"color":"black","baseline":"middle","dy":5},"encoding":{"y":{"field":"s","type":"quantitative"}}}
   ]}
  ]},
 {"title":{"text":"d","font":"Liberation Serif","fontSize":21,"fontWeight":"bold","anchor":"start","frame":"bounds","offset":-13,"dx":5},
  "resolve":{"scale":{"x":"independent","y":"independent","xOffset":"independent","fill":"independent"},"axis":{"x":"independent","y":"independent"},"legend":{"fill":"independent"}},
  "vconcat":[
  {"width":205,"height":194,"title":{"text":"28°C","font":"Lato","fontSize":20,"offset":2,"dx":-5},
   "transform":[{"filter":"datum.r=='d'"}],
   "encoding":{"x":{"field":"gen","type":"nominal","sort":["Col-0","bon1-1","pGC1::BON1 #1","pGC1::BON1 #3","pGC1::BON1 #4"],"scale":{"paddingInner":0.32,"paddingOuter":0.15},"axis":{"title":null,"labelAngle":-43,"labelFontSize":13.5,"labelColor":"#222","domain":false,"ticks":false,"labelPadding":4}},"xOffset":{"field":"g","type":"nominal","scale":{"paddingInner":0}}},
   "layer":[
    {"mark":"bar","encoding":{"y":{"field":"m","type":"quantitative","scale":{"domain":[0,0.8]},"title":"Stomatal Aperture (width/length)","axis":{"values":[0,0.2,0.4,0.6,0.8],"format":".1f","labelFontSize":15,"titleFontSize":13.5,"labelColor":"#222","titleColor":"#222","tickSize":5,"titlePadding":6,"labelPadding":2}},"fill":{"field":"g","type":"nominal","scale":{"domain":["0 µM ABA","20 µM ABA"],"range":["white","#bdbdbd"]},"legend":{"title":null,"orient":"none","legendX":40,"legendY":-12,"direction":"horizontal","labelFontSize":13.5,"symbolType":"square","symbolSize":120,"symbolStrokeColor":"#555","symbolStrokeWidth":1,"columnPadding":10,"labelOffset":4,"labelColor":"#222","padding":0}}}},
    {"transform":[{"flatten":["pts"]}],"mark":{"type":"point","shape":"circle","filled":false,"size":10,"color":"#444","strokeWidth":1},"encoding":{"y":{"field":"pts","type":"quantitative"}}},
    {"mark":{"type":"tick","orient":"horizontal","color":"black","size":19,"thickness":1.2},"encoding":{"y":{"field":"hi","type":"quantitative"}}},
    {"mark":{"type":"tick","orient":"horizontal","color":"#666","size":19,"thickness":1.2},"encoding":{"y":{"field":"lo","type":"quantitative"}}},
    {"transform":[{"filter":"isValid(datum.s)"}],"mark":{"type":"text","text":"*","font":"Liberation Sans","fontSize":24,"color":"black","baseline":"middle","dy":5},"encoding":{"y":{"field":"s","type":"quantitative"}}}
   ]}
  ]}
 ]}
]
}
